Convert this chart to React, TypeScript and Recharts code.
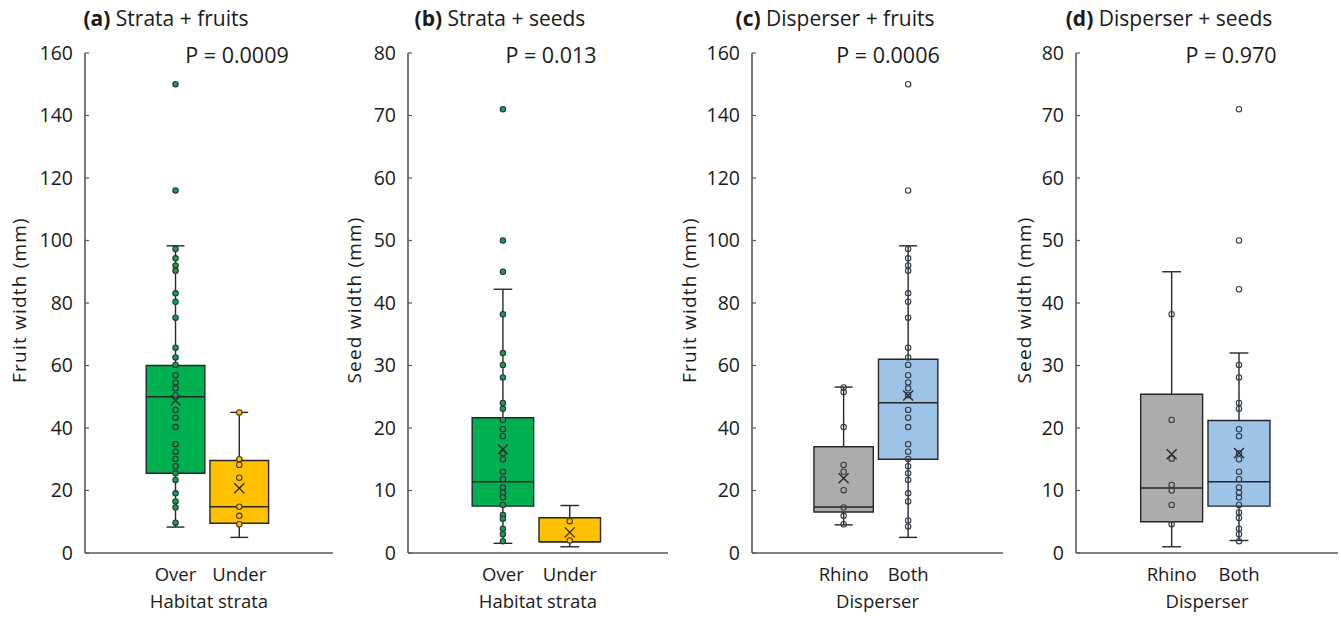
import React from 'react';
import { ComposedChart, XAxis, YAxis, Scatter, ReferenceArea, ReferenceLine, Label } from 'recharts';

const FONT = '"Open Sans", "Noto Sans", sans-serif';

// ---------- categories & ticks ----------
const strataCategories = ['Over', 'Under'];
const disperserCategories = ['Rhino', 'Both'];
const fruitTicks = [0, 20, 40, 60, 80, 100, 120, 140, 160];
const seedTicks = [0, 10, 20, 30, 40, 50, 60, 70, 80];

// ---------- (a) Strata + fruits ----------
// stats per group: [whisker min, q1, median, q3, whisker max]
const strataFruitStats = [
  [8.3, 25.5, 50, 60, 98.3],
  [5, 9.5, 14.8, 29.6, 45],
];
const strataFruitMeans = [48.8, 20.7];
const fruitOverPoints = [150, 116, 97.3, 94.3, 92, 90.3, 83.1, 80.4, 75.3, 65.7, 62.6, 60.2, 56.9, 54.6, 52.7, 50.5, 45.8, 43.3, 40.3, 34.8, 32.4, 30.1, 27.8, 25.5, 23.4, 19.1, 16.5, 14.6, 9.7];
const fruitUnderPoints = [45, 30, 28.2, 24.1, 14.8, 11.9, 9.2];

// ---------- (b) Strata + seeds ----------
const strataSeedStats = [
  [1.55, 7.5, 11.4, 21.65, 42.2],
  [1, 1.8, 1.8, 5.65, 7.6],
];
const strataSeedMeans = [16.6, 3.3];
const seedOverPoints = [71, 50, 45, 38.2, 32, 30.1, 28.1, 24, 23.1, 21.3, 19.8, 18.7, 15.95, 15, 13, 11.8, 10.5, 9.65, 8.9, 7.7, 6.1, 5.5, 3.9, 3, 1.9];
const seedUnderPoints = [5.1, 2];

// ---------- (c) Disperser + fruits ----------
const disperserFruitStats = [
  [9, 13.1, 14.7, 34, 53.1],
  [5, 30, 48.1, 62, 98.3],
];
const disperserFruitMeans = [23.9, 50.4];
const fruitRhinoPoints = [53, 51.5, 40.3, 28.2, 26, 20.1, 14.6, 11.9, 9.2];
const fruitBothPoints = [150, 116, 97.3, 94.3, 92, 90.3, 83.1, 80.4, 75.3, 65.7, 62.6, 60.2, 56.9, 54.6, 52.7, 50.5, 45.8, 43.3, 40.3, 34.8, 32.4, 30.1, 27.8, 25.5, 23.4, 19.1, 16.5, 10.4, 8.5];

// ---------- (d) Disperser + seeds ----------
const disperserSeedStats = [
  [1, 5, 10.4, 25.4, 45],
  [2, 7.5, 11.4, 21.2, 32],
];
const disperserSeedMeans = [15.8, 16];
const seedRhinoPoints = [38.2, 21.3, 15.1, 10.9, 10, 7.7, 4.6];
const seedBothPoints = [71, 50, 42.2, 30.1, 28.1, 24, 23.1, 19.8, 18.7, 15.95, 15, 13, 11.8, 10.5, 9.65, 8.9, 7.7, 6.5, 5.6, 3.9, 3, 1.9];

const GREEN = '#00b050';
const GOLD = '#ffc000';
const GREY = '#aeabab';
const BLUE = '#9dc3e6';
const DARK = '#262626';
const AXIS = '#595959';

const X_DOMAIN = [-0.42, 3.47];
const HALF_BOX = 0.46;
const HALF_CAP = 0.14;

type PanelProps = {
  left: number;
  yWidth: number;
  letter: string;
  title: string;
  pText: string;
  pCenter: number;
  titleCenter: number;
  yMax: number;
  yTicks: number[];
  yLabel: string;
  xLabel: string;
  categories: string[];
  stats: number[][];
  means: number[];
  points: number[][];
  boxColors: string[];
  pointFill: string[];
  pointStroke: string[];
};

const makeDot = (fill: string, stroke: string) => (props: any) => {
  const { cx, cy } = props;
  if (cx == null || cy == null) return <g />;
  return <circle cx={cx} cy={cy} r={2.7} fill={fill} stroke={stroke} strokeWidth={1.1} />;
};

const meanShape = (props: any) => {
  const { cx, cy } = props;
  if (cx == null || cy == null) return <g />;
  const s = 5;
  return (
    <path
      d={`M${cx - s},${cy - s}L${cx + s},${cy + s}M${cx - s},${cy + s}L${cx + s},${cy - s}`}
      stroke={DARK}
      strokeWidth={1.3}
      fill="none"
    />
  );
};

const Panel = (p: PanelProps) => {
  const width = 336;
  const height = 617;
  return (
    <div style={{ position: 'absolute', left: p.left, top: 0, width, height }}>
      <ComposedChart
        width={width}
        height={height}
        margin={{ top: 53, right: 3, bottom: 4, left: 0 }}
      >
        <XAxis
          type="number"
          dataKey="x"
          domain={X_DOMAIN}
          allowDataOverflow
          ticks={[1, 2]}
          tickFormatter={(v: number) => p.categories[v - 1] ?? ''}
          tickLine={false}
          tickSize={0}
          tickMargin={15}
          height={60}
          axisLine={{ stroke: AXIS, strokeWidth: 1.6 }}
          tick={{ fill: '#1a1a1a', fontSize: 18.5, fontFamily: FONT }}
        >
          <Label value={p.xLabel} position="insideBottom" offset={5} fill="#1a1a1a" fontSize={18.5} fontFamily={FONT} />
        </XAxis>
        <YAxis
          type="number"
          dataKey="y"
          domain={[0, p.yMax]}
          ticks={p.yTicks}
          interval={0}
          width={p.yWidth}
          tickSize={-4}
          tickMargin={16}
          axisLine={{ stroke: AXIS, strokeWidth: 1.6 }}
          tickLine={{ stroke: AXIS, strokeWidth: 1.2 }}
          tick={{ fill: '#1a1a1a', fontSize: 19.5, fontFamily: FONT }}
        >
          <Label
            content={(lp: any) => {
              const vb = lp.viewBox || { y: 53, height: 500 };
              const cy = vb.y + vb.height / 2 - 3;
              return (
                <text
                  x={19}
                  y={cy}
                  transform={`rotate(-90 19 ${cy})`}
                  textAnchor="middle"
                  dominantBaseline="central"
                  fill="#1a1a1a"
                  fontSize={19}
                  letterSpacing={1.2}
                  fontFamily={FONT}
                >
                  {p.yLabel}
                </text>
              );
            }}
          />
        </YAxis>

        {p.stats.map((s, i) => {
          const x = i + 1;
          return (
            <ReferenceLine
              key={`wl-${i}`}
              segment={[{ x, y: s[3] }, { x, y: s[4] }]}
              stroke={DARK}
              strokeWidth={1.4}
            />
          );
        })}
        {p.stats.map((s, i) => {
          const x = i + 1;
          return (
            <ReferenceLine
              key={`wl2-${i}`}
              segment={[{ x, y: s[0] }, { x, y: s[1] }]}
              stroke={DARK}
              strokeWidth={1.4}
            />
          );
        })}
        {p.stats.map((s, i) => {
          const x = i + 1;
          return (
            <ReferenceLine
              key={`cap-top-${i}`}
              segment={[{ x: x - HALF_CAP, y: s[4] }, { x: x + HALF_CAP, y: s[4] }]}
              stroke={DARK}
              strokeWidth={1.4}
            />
          );
        })}
        {p.stats.map((s, i) => {
          const x = i + 1;
          return (
            <ReferenceLine
              key={`cap-bot-${i}`}
              segment={[{ x: x - HALF_CAP, y: s[0] }, { x: x + HALF_CAP, y: s[0] }]}
              stroke={DARK}
              strokeWidth={1.4}
            />
          );
        })}
        {p.stats.map((s, i) => {
          const x = i + 1;
          return (
            <ReferenceArea
              key={`box-${i}`}
              x1={x - HALF_BOX}
              x2={x + HALF_BOX}
              y1={s[1]}
              y2={s[3]}
              fill={p.boxColors[i]}
              fillOpacity={1}
              stroke={DARK}
              strokeWidth={1.4}
            />
          );
        })}
        {p.stats.map((s, i) => {
          const x = i + 1;
          return (
            <ReferenceLine
              key={`med-${i}`}
              segment={[{ x: x - HALF_BOX, y: s[2] }, { x: x + HALF_BOX, y: s[2] }]}
              stroke={DARK}
              strokeWidth={1.4}
            />
          );
        })}

        {p.points.map((pts, i) => (
          <Scatter
            key={`pts-${i}`}
            data={pts.map((v) => ({ x: i + 1, y: v }))}
            dataKey="y"
            isAnimationActive={false}
            shape={makeDot(p.pointFill[i], p.pointStroke[i])}
          />
        ))}
        <Scatter
          data={p.means.map((v, i) => ({ x: i + 1, y: v }))}
          dataKey="y"
          isAnimationActive={false}
          shape={meanShape}
        />
      </ComposedChart>
      <div
        style={{
          position: 'absolute',
          left: p.titleCenter - 150,
          width: 300,
          top: 3,
          textAlign: 'center',
          fontFamily: FONT,
          fontSize: 21,
          lineHeight: '30px',
          color: '#1a1a1a',
          whiteSpace: 'nowrap',
        }}
      >
        <b>{p.letter}</b> {p.title}
      </div>
      <div
        style={{
          position: 'absolute',
          left: p.pCenter - 100,
          width: 200,
          top: 40,
          textAlign: 'center',
          fontFamily: FONT,
          fontSize: 21.5,
          lineHeight: '30px',
          color: '#1a1a1a',
          whiteSpace: 'nowrap',
        }}
      >
        {p.pText}
      </div>
    </div>
  );
};

export default function App() {
  return (
    <div style={{ position: 'absolute', left: 0, top: 0, width: 1341, height: 617, background: '#fff', overflow: 'hidden' }}>
      <Panel
        left={0}
        yWidth={85}
        letter="(a)"
        title="Strata + fruits"
        pText="P = 0.0009"
        titleCenter={166}
        pCenter={237}
        yMax={160}
        yTicks={fruitTicks}
        yLabel="Fruit width (mm)"
        xLabel="Habitat strata"
        categories={strataCategories}
        stats={strataFruitStats}
        means={strataFruitMeans}
        points={[fruitOverPoints, fruitUnderPoints]}
        boxColors={[GREEN, GOLD]}
        pointFill={['#1e9a55', GOLD]}
        pointStroke={['#1d3b2c', '#4a3a10']}
      />
      <Panel
        left={335}
        yWidth={73}
        letter="(b)"
        title="Strata + seeds"
        pText="P = 0.013"
        titleCenter={165}
        pCenter={216}
        yMax={80}
        yTicks={seedTicks}
        yLabel="Seed width (mm)"
        xLabel="Habitat strata"
        categories={strataCategories}
        stats={strataSeedStats}
        means={strataSeedMeans}
        points={[seedOverPoints, seedUnderPoints]}
        boxColors={[GREEN, GOLD]}
        pointFill={['#1e9a55', GOLD]}
        pointStroke={['#1d3b2c', '#4a3a10']}
      />
      <Panel
        left={670}
        yWidth={82}
        letter="(c)"
        title="Disperser  + fruits"
        pText="P = 0.0006"
        titleCenter={165}
        pCenter={218}
        yMax={160}
        yTicks={fruitTicks}
        yLabel="Fruit width (mm)"
        xLabel="Disperser"
        categories={disperserCategories}
        stats={disperserFruitStats}
        means={disperserFruitMeans}
        points={[fruitRhinoPoints, fruitBothPoints]}
        boxColors={[GREY, BLUE]}
        pointFill={['none', 'none']}
        pointStroke={['#3a3a3a', '#2f3b4a']}
      />
      <Panel
        left={1005}
        yWidth={71}
        letter="(d)"
        title="Disperser  + seeds"
        pText="P = 0.970"
        titleCenter={164}
        pCenter={226}
        yMax={80}
        yTicks={seedTicks}
        yLabel="Seed width (mm)"
        xLabel="Disperser"
        categories={disperserCategories}
        stats={disperserSeedStats}
        means={disperserSeedMeans}
        points={[seedRhinoPoints, seedBothPoints]}
        boxColors={[GREY, BLUE]}
        pointFill={['none', 'none']}
        pointStroke={['#3a3a3a', '#2f3b4a']}
      />
    </div>
  );
}
